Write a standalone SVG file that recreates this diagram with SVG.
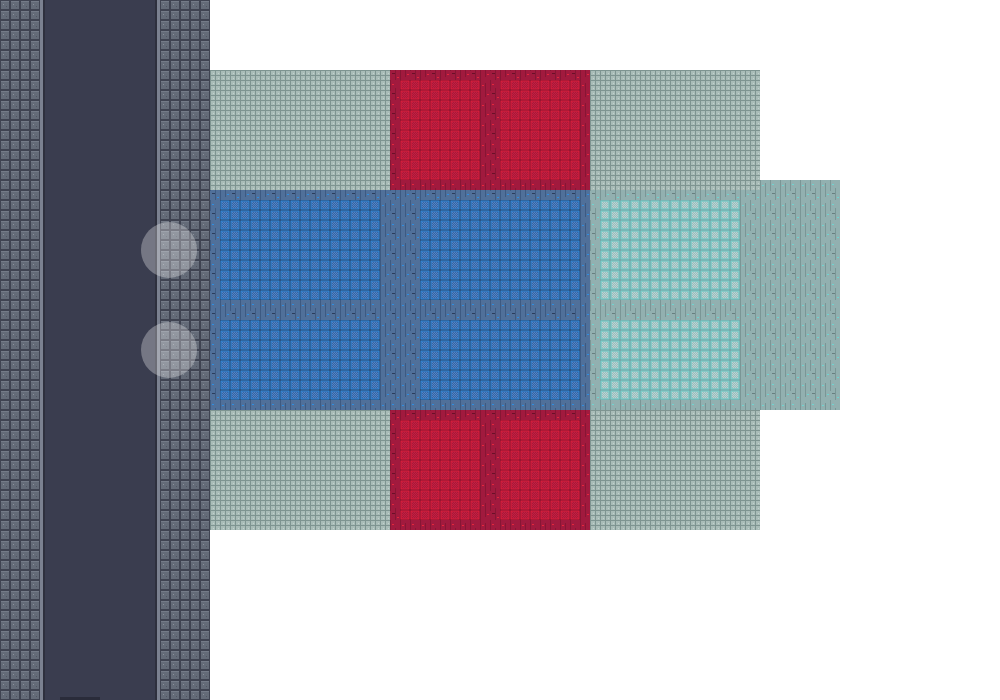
<svg xmlns="http://www.w3.org/2000/svg" width="1000" height="700" viewBox="0 0 1000 700">
<defs>
<pattern id="stone" width="10" height="10" patternUnits="userSpaceOnUse">
<rect width="10" height="10" fill="#3f4351"/>
<rect x="1" y="1" width="8" height="8" fill="#646b78"/>
<rect x="1" y="1" width="8" height="1" fill="#747b88"/>
<rect x="3" y="4" width="1" height="1" fill="#8a909a"/>
<rect x="6" y="6" width="1" height="1" fill="#505562"/>
</pattern>
<pattern id="grid" width="5" height="5" patternUnits="userSpaceOnUse">
<rect width="5" height="5" fill="#a9bcb8"/>
<rect x="0" y="0" width="5" height="1" fill="#7e9491"/>
<rect x="0" y="0" width="1" height="5" fill="#7e9491"/>
<rect x="3" y="3" width="1" height="1" fill="#c2d2cf"/>
</pattern>
<pattern id="plankB" width="20" height="20" patternUnits="userSpaceOnUse">
<rect width="20" height="20" fill="#50709a"/>
<rect x="0" y="0" width="1" height="20" fill="#3d5a82"/>
<rect x="5" y="3" width="1" height="14" fill="#3d5a82"/>
<rect x="10" y="0" width="1" height="11" fill="#3d5a82"/>
<rect x="15" y="8" width="1" height="12" fill="#3d5a82"/>
<rect x="2" y="5" width="2" height="1" fill="#2f8de0"/>
<rect x="7" y="14" width="2" height="1" fill="#2f8de0"/>
<rect x="12" y="4" width="2" height="1" fill="#2f8de0"/>
<rect x="17" y="17" width="2" height="1" fill="#2f8de0"/>
<rect x="12" y="13" width="3" height="1" fill="#2c3d5c"/>
</pattern>
<pattern id="plankR" width="20" height="20" patternUnits="userSpaceOnUse">
<rect width="20" height="20" fill="#a11a3e"/>
<rect x="0" y="0" width="1" height="20" fill="#871634"/>
<rect x="5" y="3" width="1" height="14" fill="#871634"/>
<rect x="10" y="0" width="1" height="11" fill="#871634"/>
<rect x="15" y="8" width="1" height="12" fill="#871634"/>
<rect x="2" y="5" width="2" height="1" fill="#e4263c"/>
<rect x="7" y="14" width="2" height="1" fill="#e4263c"/>
<rect x="12" y="4" width="2" height="1" fill="#e4263c"/>
<rect x="17" y="17" width="2" height="1" fill="#e4263c"/>
<rect x="12" y="13" width="3" height="1" fill="#6a1028"/>
</pattern>
<pattern id="plankT" width="20" height="20" patternUnits="userSpaceOnUse">
<rect width="20" height="20" fill="#92b0b0"/>
<rect x="0" y="0" width="1" height="20" fill="#7a9696"/>
<rect x="5" y="3" width="1" height="14" fill="#7a9696"/>
<rect x="10" y="0" width="1" height="11" fill="#7a9696"/>
<rect x="15" y="8" width="1" height="12" fill="#7a9696"/>
<rect x="2" y="5" width="2" height="1" fill="#6fd4d0"/>
<rect x="7" y="14" width="2" height="1" fill="#6fd4d0"/>
<rect x="12" y="4" width="2" height="1" fill="#6fd4d0"/>
<rect x="17" y="17" width="2" height="1" fill="#6fd4d0"/>
<rect x="12" y="13" width="3" height="1" fill="#687f80"/>
</pattern>
<pattern id="tileB" width="10" height="10" patternUnits="userSpaceOnUse">
<rect width="10" height="10" fill="#2a3e62"/>
<rect x="0.5" y="0.5" width="9" height="9" fill="#2f8de0"/>
<rect x="1.5" y="1.5" width="7" height="7" fill="#3a64a0"/>
<rect x="2" y="2" width="1" height="1" fill="#4f84c8"/><rect x="4" y="2" width="1" height="1" fill="#4f84c8"/><rect x="6" y="2" width="1" height="1" fill="#4f84c8"/>
<rect x="3" y="3" width="1" height="1" fill="#4f84c8"/><rect x="5" y="3" width="1" height="1" fill="#4f84c8"/><rect x="7" y="3" width="1" height="1" fill="#4f84c8"/>
<rect x="2" y="4" width="1" height="1" fill="#4f84c8"/><rect x="4" y="4" width="1" height="1" fill="#4f84c8"/><rect x="6" y="4" width="1" height="1" fill="#4f84c8"/>
<rect x="3" y="5" width="1" height="1" fill="#4f84c8"/><rect x="5" y="5" width="1" height="1" fill="#4f84c8"/><rect x="7" y="5" width="1" height="1" fill="#4f84c8"/>
<rect x="2" y="6" width="1" height="1" fill="#4f84c8"/><rect x="4" y="6" width="1" height="1" fill="#4f84c8"/><rect x="6" y="6" width="1" height="1" fill="#4f84c8"/>
<rect x="3" y="7" width="1" height="1" fill="#4f84c8"/><rect x="5" y="7" width="1" height="1" fill="#4f84c8"/><rect x="7" y="7" width="1" height="1" fill="#4f84c8"/>
</pattern>
<pattern id="tileR" width="10" height="10" patternUnits="userSpaceOnUse">
<rect width="10" height="10" fill="#7a1230"/>
<rect x="0.5" y="0.5" width="9" height="9" fill="#e4203c"/>
<rect x="1.5" y="1.5" width="7" height="7" fill="#a8183a"/>
<rect x="2" y="2" width="1" height="1" fill="#c42040"/><rect x="4" y="2" width="1" height="1" fill="#c42040"/><rect x="6" y="2" width="1" height="1" fill="#c42040"/>
<rect x="3" y="3" width="1" height="1" fill="#c42040"/><rect x="5" y="3" width="1" height="1" fill="#c42040"/><rect x="7" y="3" width="1" height="1" fill="#c42040"/>
<rect x="2" y="4" width="1" height="1" fill="#c42040"/><rect x="4" y="4" width="1" height="1" fill="#c42040"/><rect x="6" y="4" width="1" height="1" fill="#c42040"/>
<rect x="3" y="5" width="1" height="1" fill="#c42040"/><rect x="5" y="5" width="1" height="1" fill="#c42040"/><rect x="7" y="5" width="1" height="1" fill="#c42040"/>
<rect x="2" y="6" width="1" height="1" fill="#c42040"/><rect x="4" y="6" width="1" height="1" fill="#c42040"/><rect x="6" y="6" width="1" height="1" fill="#c42040"/>
<rect x="3" y="7" width="1" height="1" fill="#c42040"/><rect x="5" y="7" width="1" height="1" fill="#c42040"/><rect x="7" y="7" width="1" height="1" fill="#c42040"/>
</pattern>
<pattern id="tileT" width="10" height="10" patternUnits="userSpaceOnUse">
<rect width="10" height="10" fill="#7a9a9c"/>
<rect x="0.5" y="0.5" width="9" height="9" fill="#72d6d2"/>
<rect x="1.5" y="1.5" width="7" height="7" fill="#9cbcbc"/>
<rect x="2" y="2" width="1" height="1" fill="#b8d4d4"/><rect x="4" y="2" width="1" height="1" fill="#b8d4d4"/><rect x="6" y="2" width="1" height="1" fill="#b8d4d4"/>
<rect x="3" y="3" width="1" height="1" fill="#b8d4d4"/><rect x="5" y="3" width="1" height="1" fill="#b8d4d4"/><rect x="7" y="3" width="1" height="1" fill="#b8d4d4"/>
<rect x="2" y="4" width="1" height="1" fill="#b8d4d4"/><rect x="4" y="4" width="1" height="1" fill="#b8d4d4"/><rect x="6" y="4" width="1" height="1" fill="#b8d4d4"/>
<rect x="3" y="5" width="1" height="1" fill="#b8d4d4"/><rect x="5" y="5" width="1" height="1" fill="#b8d4d4"/><rect x="7" y="5" width="1" height="1" fill="#b8d4d4"/>
<rect x="2" y="6" width="1" height="1" fill="#b8d4d4"/><rect x="4" y="6" width="1" height="1" fill="#b8d4d4"/><rect x="6" y="6" width="1" height="1" fill="#b8d4d4"/>
<rect x="3" y="7" width="1" height="1" fill="#b8d4d4"/><rect x="5" y="7" width="1" height="1" fill="#b8d4d4"/><rect x="7" y="7" width="1" height="1" fill="#b8d4d4"/>
</pattern>
</defs>
<rect width="1000" height="700" fill="#ffffff"/>
<g id="left-wall">
<rect x="0" y="0" width="45" height="700" fill="url(#stone)"/>
<rect x="40" y="0" width="3" height="700" fill="#7b8190"/>
<rect x="43" y="0" width="2" height="700" fill="#2e303d"/>
<rect x="45" y="0" width="110" height="700" fill="#3a3d4f"/>
<rect x="155" y="0" width="55" height="700" fill="url(#stone)"/>
<rect x="155" y="0" width="2" height="700" fill="#2e303d"/>
<rect x="157" y="0" width="3" height="700" fill="#7b8190"/>
<rect x="60" y="697" width="40" height="3" fill="#2a2c3a"/>
</g>
<g id="teal-room">
<rect x="590" y="180" width="250" height="230" fill="url(#plankT)"/>
<rect x="600" y="200" width="140" height="100" fill="url(#tileT)"/>
<rect x="600" y="320" width="140" height="80" fill="url(#tileT)"/>
</g>
<g id="grey-floors">
<rect x="210" y="70" width="180" height="120" fill="url(#grid)"/>
<rect x="590" y="70" width="170" height="120" fill="url(#grid)"/>
<rect x="210" y="410" width="180" height="120" fill="url(#grid)"/>
<rect x="590" y="410" width="170" height="120" fill="url(#grid)"/>
</g>
<g id="red-top">
<rect x="390" y="70" width="200" height="120" fill="url(#plankR)"/>
<rect x="400" y="80" width="80" height="100" fill="url(#tileR)"/>
<rect x="500" y="80" width="80" height="100" fill="url(#tileR)"/>
</g>
<g id="red-bottom">
<rect x="390" y="410" width="200" height="120" fill="url(#plankR)"/>
<rect x="400" y="420" width="80" height="100" fill="url(#tileR)"/>
<rect x="500" y="420" width="80" height="100" fill="url(#tileR)"/>
</g>
<g id="blue-room">
<rect x="210" y="190" width="380" height="220" fill="url(#plankB)"/>
<rect x="220" y="200" width="160" height="100" fill="url(#tileB)"/>
<rect x="420" y="200" width="160" height="100" fill="url(#tileB)"/>
<rect x="220" y="320" width="160" height="80" fill="url(#tileB)"/>
<rect x="420" y="320" width="160" height="80" fill="url(#tileB)"/>
</g>
<g id="lights">
<circle cx="169" cy="250" r="28" fill="#ffffff" fill-opacity="0.3"/>
<circle cx="169" cy="350" r="28" fill="#ffffff" fill-opacity="0.3"/>
</g>
</svg>
